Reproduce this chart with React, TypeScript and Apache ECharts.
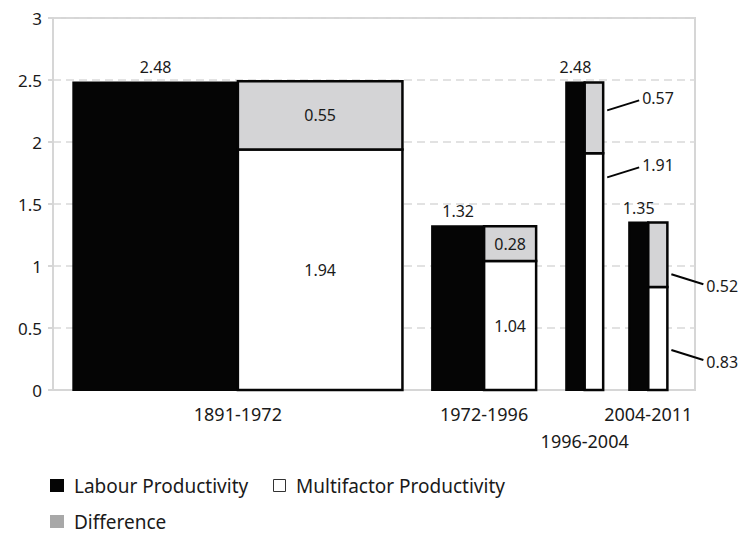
import React, { useEffect, useRef } from "react";
import * as echarts from "echarts";

// ---- data ----
const periods = ["1891-1972", "1972-1996", "1996-2004", "2004-2011"];
const labour = [2.48, 1.32, 2.48, 1.35];
const multifactor = [1.94, 1.04, 1.91, 0.83];
const difference = [0.55, 0.28, 0.57, 0.52];
// extent of each period along the (hidden) numeric x axis
const spanStart = [5, 93.3, 126.3, 141.8];
const spanEnd = [86, 118.9, 135.4, 151.2];

// ---- layout / style (not data) ----
const FONT = "Noto Sans";
const TEXT = "#1a1a1a";
const GRAY = "#d4d4d6";
const labelRow = [0, 0, 1, 0];
const useCallout = [false, false, true, true];
// callout anchor (value units) for [difference, multifactor] and line direction
const calloutAnchor: Record<number, [number, number]> = { 2: [2.255, 1.715], 3: [0.934, 0.322] };
const calloutDir: Record<number, number> = { 2: -1, 3: 1 };

export default function App() {
  const ref = useRef<HTMLDivElement>(null);
  useEffect(() => {
    if (!ref.current) return;
    const chart = echarts.init(ref.current, null, { renderer: "svg" });

    const rectItem = (api: any, style: any) => {
      const p0 = api.coord([api.value(0), api.value(3)]);
      const p1 = api.coord([api.value(1), api.value(2)]);
      return {
        type: "rect",
        shape: { x: p0[0], y: p0[1], width: p1[0] - p0[0], height: p1[1] - p0[1] },
        style,
      };
    };

    const mid = (i: number) => (spanStart[i] + spanEnd[i]) / 2;

    const labourData = periods.map((_, i) => [spanStart[i], mid(i), 0, labour[i]]);
    const mfpData = periods.map((_, i) => [mid(i), spanEnd[i], 0, multifactor[i]]);
    const diffData = periods.map((_, i) => [mid(i), spanEnd[i], multifactor[i], multifactor[i] + difference[i]]);

    const txt = (x: number, y: number, text: string, size: number, align = "center") => ({
      type: "text",
      style: { x, y, text, fill: TEXT, fontSize: size, fontFamily: FONT, align, verticalAlign: "middle" },
    });

    const option: any = {
      animation: false,
      grid: { left: 53, right: 61, top: 18, bottom: 144, show: true, borderColor: "#d6d6d6", borderWidth: 2 },
      xAxis: {
        type: "value",
        min: 0,
        max: 158,
        axisLine: { show: true, lineStyle: { color: "#d6d6d6", width: 2 } },
        axisTick: { show: false },
        axisLabel: { show: false },
        splitLine: { show: false },
      },
      yAxis: {
        type: "value",
        min: 0,
        max: 3,
        interval: 0.5,
        axisLine: { show: true, lineStyle: { color: "#d6d6d6", width: 2 } },
        axisTick: { show: true, length: 5, lineStyle: { color: "#d6d6d6", width: 2 } },
        axisLabel: { color: TEXT, fontSize: 17, fontFamily: FONT, margin: 11 },
        splitLine: { show: true, lineStyle: { color: "#d9d9d9", width: 1.5, type: [8, 5] } },
      },
      series: [
        {
          type: "custom",
          name: "Labour Productivity",
          data: labourData,
          renderItem: (_p: any, api: any) => rectItem(api, { fill: "#050505", stroke: "#050505", lineWidth: 2 }),
        },
        {
          type: "custom",
          name: "Multifactor Productivity",
          data: mfpData,
          renderItem: (_p: any, api: any) => rectItem(api, { fill: "#ffffff", stroke: "#050505", lineWidth: 2.5 }),
        },
        {
          type: "custom",
          name: "Difference",
          data: diffData,
          renderItem: (_p: any, api: any) => rectItem(api, { fill: GRAY, stroke: "#050505", lineWidth: 2.5 }),
        },
        {
          type: "custom",
          name: "labels",
          data: periods.map((_, i) => [i]),
          clip: false,
          renderItem: (params: any, api: any) => {
            const i = params.dataIndex;
            const children: any[] = [];
            const top = api.coord([spanStart[i], labour[i]]);
            const base = api.coord([mid(i), 0]);
            const leftMid = api.coord([(spanStart[i] + mid(i)) / 2, labour[i]]);
            const rightMid = api.coord([(mid(i) + spanEnd[i]) / 2, 0]);
            const right = api.coord([spanEnd[i], 0]);
            // total label
            children.push(txt(leftMid[0], top[1] - 15, labour[i].toFixed(2), 16));
            // period label
            children.push(txt(base[0], base[1] + (labelRow[i] ? 51 : 24), periods[i], 18));
            if (!useCallout[i]) {
              const yMfp = api.coord([0, multifactor[i] / 2])[1];
              const yDiff = api.coord([0, multifactor[i] + difference[i] / 2])[1];
              children.push(txt(rightMid[0], yMfp, multifactor[i].toFixed(2), 16));
              children.push(txt(rightMid[0], yDiff, difference[i].toFixed(2), 16));
            } else {
              const [aDiff, aMfp] = calloutAnchor[i];
              const dir = calloutDir[i];
              const vals = [difference[i], multifactor[i]];
              [aDiff, aMfp].forEach((a, k) => {
                const y0 = api.coord([0, a])[1];
                const x0 = right[0] + 4;
                const x1 = right[0] + 36;
                const y1 = y0 + dir * 10;
                children.push({
                  type: "line",
                  shape: { x1: x0, y1: y0, x2: x1, y2: y1 },
                  style: { stroke: "#050505", lineWidth: 2 },
                });
                children.push(txt(x1 + 3, y1 + dir * 2, vals[k].toFixed(2), 16, "left"));
              });
            }
            return { type: "group", children };
          },
        },
      ],
      graphic: [
        { type: "rect", shape: { x: 50, y: 479, width: 14, height: 13 }, style: { fill: "#050505" } },
        { type: "text", style: { x: 74, y: 486, text: "Labour Productivity", fontSize: 19, fontFamily: FONT, fill: TEXT, verticalAlign: "middle" } },
        { type: "rect", shape: { x: 273.5, y: 479.5, width: 12, height: 12 }, style: { fill: "#fff", stroke: "#333", lineWidth: 1 } },
        { type: "text", style: { x: 296, y: 486, text: "Multifactor Productivity", fontSize: 19, fontFamily: FONT, fill: TEXT, verticalAlign: "middle" } },
        { type: "rect", shape: { x: 50, y: 515, width: 14, height: 13 }, style: { fill: "#a8a8a8" } },
        { type: "text", style: { x: 74, y: 522, text: "Difference", fontSize: 19, fontFamily: FONT, fill: TEXT, verticalAlign: "middle" } },
      ],
    };
    chart.setOption(option);
    return () => chart.dispose();
  }, []);
  return <div ref={ref} style={{ position: "absolute", left: 0, top: 0, width: 756, height: 534 }} />;
}
